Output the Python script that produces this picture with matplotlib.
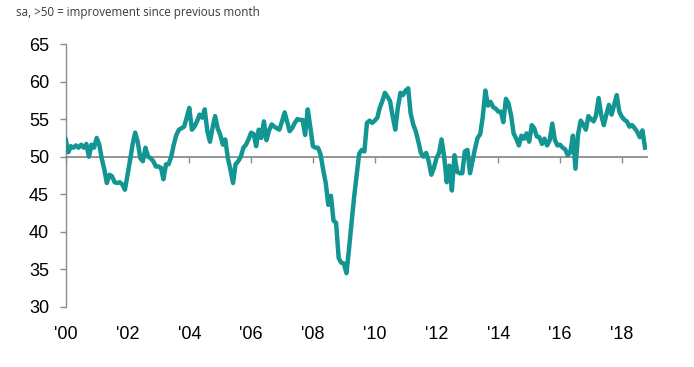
import matplotlib
matplotlib.use("Agg")
import matplotlib.pyplot as plt
import numpy as np
import pandas as pd

# monthly index values, Jan 2000 - Oct 2018 (sa, >50 = improvement)
v2000 = [52.3, 50.6, 51.4, 51.2, 51.5, 51.2, 51.6, 51.2, 51.7, 50.0, 51.6, 51.2]
v2001 = [52.5, 51.6, 49.8, 48.3, 46.5, 47.6, 47.4, 46.6, 46.5, 46.6, 46.3, 45.6]
v2002 = [47.6, 49.6, 51.6, 53.2, 52.0, 49.8, 49.4, 51.2, 50.0, 49.8, 49.4, 48.7]
v2003 = [48.7, 48.5, 47.0, 49.0, 49.0, 50.0, 51.6, 52.9, 53.6, 53.8, 54.0, 55.2]
v2004 = [56.5, 53.6, 54.0, 54.7, 55.6, 55.2, 56.3, 53.4, 52.0, 53.8, 55.4, 53.8]
v2005 = [52.9, 51.6, 52.3, 49.8, 48.3, 46.5, 49.0, 49.4, 50.0, 51.2, 51.6, 52.3]
v2006 = [53.2, 53.0, 51.4, 53.6, 52.5, 54.7, 52.2, 53.5, 54.3, 54.0, 53.8, 53.6]
v2007 = [54.7, 55.9, 54.7, 53.4, 53.8, 54.5, 55.0, 54.9, 54.9, 52.9, 56.3, 54.0]
v2008 = [51.4, 51.2, 51.2, 50.3, 48.3, 46.5, 43.6, 44.8, 41.5, 41.2, 36.5, 35.9]
v2009 = [35.8, 34.5, 37.5, 41.0, 44.5, 47.5, 50.4, 50.9, 50.7, 54.5, 54.8, 54.5]
v2010 = [54.8, 55.2, 56.5, 57.4, 58.5, 58.0, 57.4, 55.4, 53.6, 56.5, 58.5, 58.2]
v2011 = [58.8, 59.1, 55.8, 54.3, 53.4, 52.0, 50.5, 50.0, 50.5, 49.4, 47.6, 48.5]
v2012 = [49.8, 50.5, 52.3, 50.0, 46.6, 48.8, 45.5, 50.2, 48.0, 47.8, 47.8, 50.7]
v2013 = [50.9, 47.8, 49.4, 51.1, 52.5, 53.0, 55.3, 58.8, 56.8, 57.3, 56.6, 56.4]
v2014 = [56.0, 56.0, 54.6, 57.7, 57.1, 55.5, 53.1, 52.4, 51.5, 52.8, 52.4, 53.1]
v2015 = [52.0, 54.2, 53.8, 52.7, 52.6, 51.7, 52.4, 51.5, 52.2, 54.4, 52.2, 51.5]
v2016 = [51.6, 51.2, 51.0, 50.2, 50.6, 52.8, 48.4, 53.0, 54.8, 54.3, 53.6, 55.4]
v2017 = [55.0, 54.7, 55.5, 57.8, 55.6, 54.2, 55.6, 56.9, 55.6, 56.9, 58.2, 56.0]
v2018 = [55.3, 54.9, 54.7, 54.0, 54.2, 53.8, 53.3, 52.6, 53.5, 51.2]

values = (v2000 + v2001 + v2002 + v2003 + v2004 + v2005 + v2006 + v2007 + v2008
          + v2009 + v2010 + v2011 + v2012 + v2013 + v2014 + v2015 + v2016 + v2017 + v2018)
dates = pd.date_range("2000-01-01", periods=len(values), freq="MS")

tick_years = list(range(2000, 2019, 2))
tick_labels = ["'%02d" % (y % 100) for y in tick_years]
y_ticks = [30, 35, 40, 45, 50, 55, 60, 65]

LINE_COL = "#139593"
AXIS_COL = "#8c8c8c"

fig = plt.figure(figsize=(6.94, 3.67), dpi=100)
ax = fig.add_axes([0.0947, 0.1635, 0.8376, 0.7166])

ax.plot(dates, values, color=LINE_COL, linewidth=3.2, solid_joinstyle="round", zorder=3)

ax.set_ylim(30, 65)
ax.set_yticks(y_ticks)
ax.set_xlim(pd.Timestamp("2000-01-01"), pd.Timestamp("2018-10-25"))
ax.set_xticks([pd.Timestamp("%d-01-01" % y) for y in tick_years])
ax.set_xticklabels(tick_labels)

for s in ["top", "right"]:
    ax.spines[s].set_visible(False)
ax.spines["left"].set_color(AXIS_COL)
ax.spines["left"].set_linewidth(1.0)
ax.spines["bottom"].set_position(("data", 50))
ax.spines["bottom"].set_color(AXIS_COL)
ax.spines["bottom"].set_linewidth(1.3)
ax.spines["bottom"].set_zorder(1)

ax.tick_params(axis="y", length=4, width=1, color=AXIS_COL, pad=8,
               labelsize=13, labelcolor="black")
ax.tick_params(axis="x", length=4, width=1, color=AXIS_COL, pad=118,
               labelsize=13, labelcolor="black")
for lab in ax.get_xticklabels() + ax.get_yticklabels():
    lab.set_family(["Liberation Sans", "DejaVu Sans"])

fig.text(0.023, 0.965, "sa, >50 = improvement since previous month",
         fontsize=8.4, color="#3a3a3a", family=["Open Sans", "DejaVu Sans"],
         ha="left", va="center")

fig.savefig("out.png", dpi=100)
